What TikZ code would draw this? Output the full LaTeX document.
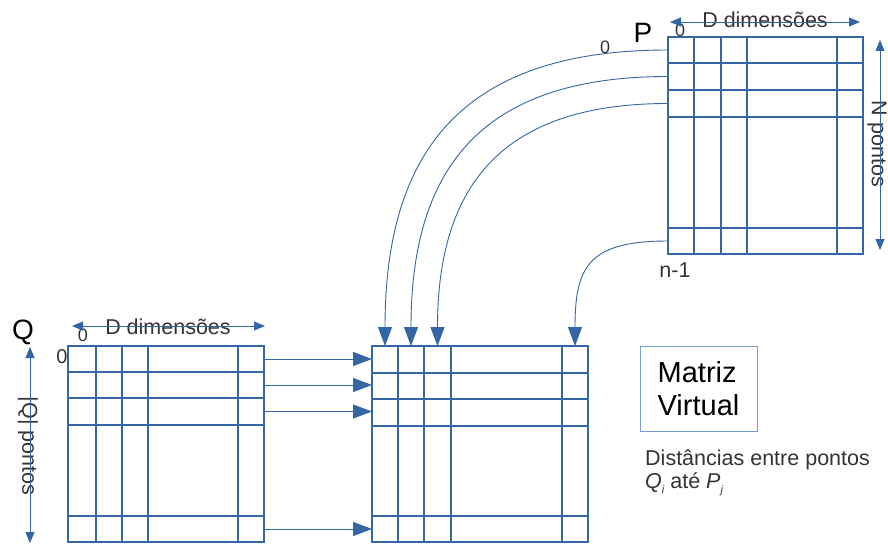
\documentclass[tikz,border=0pt]{standalone}
\usepackage{fontspec}
\setmainfont{Liberation Sans}
\usetikzlibrary{arrows.meta}
\definecolor{mblue}{RGB}{52,101,164}
\definecolor{tgray}{RGB}{51,51,51}
\definecolor{boxblue}{RGB}{114,159,207}
\begin{document}
\begin{tikzpicture}[x=1pt,y=-1pt,
  matbox/.style={draw=mblue,line width=1.2pt,inner sep=0pt,outer sep=0pt,anchor=north west},
  gridline/.style={draw=mblue,line width=1.2pt},
  bigarrow/.style={draw=mblue,line width=0.9pt,-{Triangle[length=19pt,width=14pt]}},
  dimarrow/.style={draw=mblue,line width=0.9pt,{Triangle[length=11pt,width=9pt]}-{Triangle[length=11pt,width=9pt]}},
  lbl/.style={text=tgray,inner sep=0pt,font=\fontsize{21.5}{24}\selectfont},
  zero/.style={text=tgray,inner sep=0pt,font=\fontsize{18}{20}\selectfont},
  big/.style={text=black,inner sep=0pt,font=\fontsize{28}{32}\selectfont}]
\useasboundingbox (0,0) rectangle (888,543);

% ---- matrix P
\node[matbox,minimum width=195pt,minimum height=217pt] (P) at (668,37) {};
\foreach \x in {694,721,747,837} \draw[gridline] (\x,37) -- (\x,254);
\foreach \y in {63,90,117,228} \draw[gridline] (668,\y) -- (863,\y);

% ---- matrix Q
\node[matbox,minimum width=196pt,minimum height=196pt] (Q) at (68,346) {};
\foreach \x in {96,122,148,238} \draw[gridline] (\x,346) -- (\x,542);
\foreach \y in {372,398,425,516} \draw[gridline] (68,\y) -- (264,\y);

% ---- virtual matrix
\node[matbox,minimum width=216pt,minimum height=196pt] (V) at (372,346) {};
\foreach \x in {398,424,451,562} \draw[gridline] (\x,346) -- (\x,542);
\foreach \y in {373,399,426,516} \draw[gridline] (372,\y) -- (588,\y);

% ---- connector end points
\coordinate (p0) at (668,50);
\coordinate (p1) at (668,76.5);
\coordinate (p2) at (668,103.5);
\coordinate (pn) at (668,241);
\coordinate (v0) at (385,346);
\coordinate (v1) at (411,346);
\coordinate (v2) at (437.5,346);
\coordinate (vn) at (575,346);
\coordinate (q0) at (264,359);
\coordinate (q1) at (264,385);
\coordinate (q2) at (264,411.5);
\coordinate (qn) at (264,529);
\coordinate (w0) at (372,359);
\coordinate (w1) at (372,385);
\coordinate (w2) at (372,411.5);
\coordinate (wn) at (372,529);

% ---- curves from P to virtual matrix
\draw[bigarrow] (p0) to[out=180,in=90,looseness=1.25] (v0);
\draw[bigarrow] (p1) to[out=180,in=90,looseness=1.25] (v1);
\draw[bigarrow] (p2) to[out=180,in=90,looseness=1.25] (v2);
\draw[bigarrow] (pn) to[out=180,in=90,looseness=1.45] (vn);

% ---- straight arrows from Q to virtual matrix
\draw[bigarrow] (q0) -- (w0);
\draw[bigarrow] (q1) -- (w1);
\draw[bigarrow] (q2) -- (w2);
\draw[bigarrow] (qn) -- (wn);

% ---- labels
\node[big,anchor=base] (Plbl) at (643,43) {P};
\node[big,anchor=base] (Qlbl) at (23,339) {Q};
\node[zero] (p0top) at (680,30) {0};
\node[zero] (p0left) at (605,47) {0};
\node[zero] (q0top) at (83,335) {0};
\node[zero,font=\fontsize{20}{22}\selectfont] (q0left) at (62,357) {0};
\node[lbl,anchor=base] (nm1) at (675,277) {n-1};

\node[lbl,anchor=base] (dpt) at (765,28) {D dimensões};
\node[lbl,anchor=base] (dqt) at (168,334) {D dimensões};
\node[lbl,rotate=-90] (npt) at (877,144) {N pontos};
\node[lbl,rotate=-90] (nqt) at (28,446) {|Q| pontos};

% ---- dimension arrows
\coordinate (dp1) at (670,22);
\coordinate (dp2) at (860,22);
\coordinate (dq1) at (72,326);
\coordinate (dq2) at (265,326);
\coordinate (np1) at (880,40);
\coordinate (np2) at (880,250);
\coordinate (nq1) at (30,347);
\coordinate (nq2) at (30,543);
\draw[dimarrow] (dp1) -- (dp2);
\draw[dimarrow] (dq1) -- (dq2);
\draw[dimarrow] (np1) -- (np2);
\draw[dimarrow] (nq1) -- (nq2);

% ---- legend
\node[draw=boxblue,line width=0.8pt,minimum width=117pt,minimum height=85pt,inner sep=0pt] (box) at (698.5,388.5) {};
\node[text=black,inner sep=0pt,align=left,font=\fontsize{29}{33}\selectfont] (mv) at (box.center) {Matriz\\Virtual};
\node[lbl,anchor=base west] (dist) at (645,465) {Distâncias entre pontos};
\node[lbl,anchor=base west] (qp) at (645,488) {\itshape Q{\fontsize{11}{12}\selectfont\raisebox{-5pt}{i}} \upshape até \itshape P{\fontsize{11}{12}\selectfont\raisebox{-5pt}{j}}};
\end{tikzpicture}
\end{document}
